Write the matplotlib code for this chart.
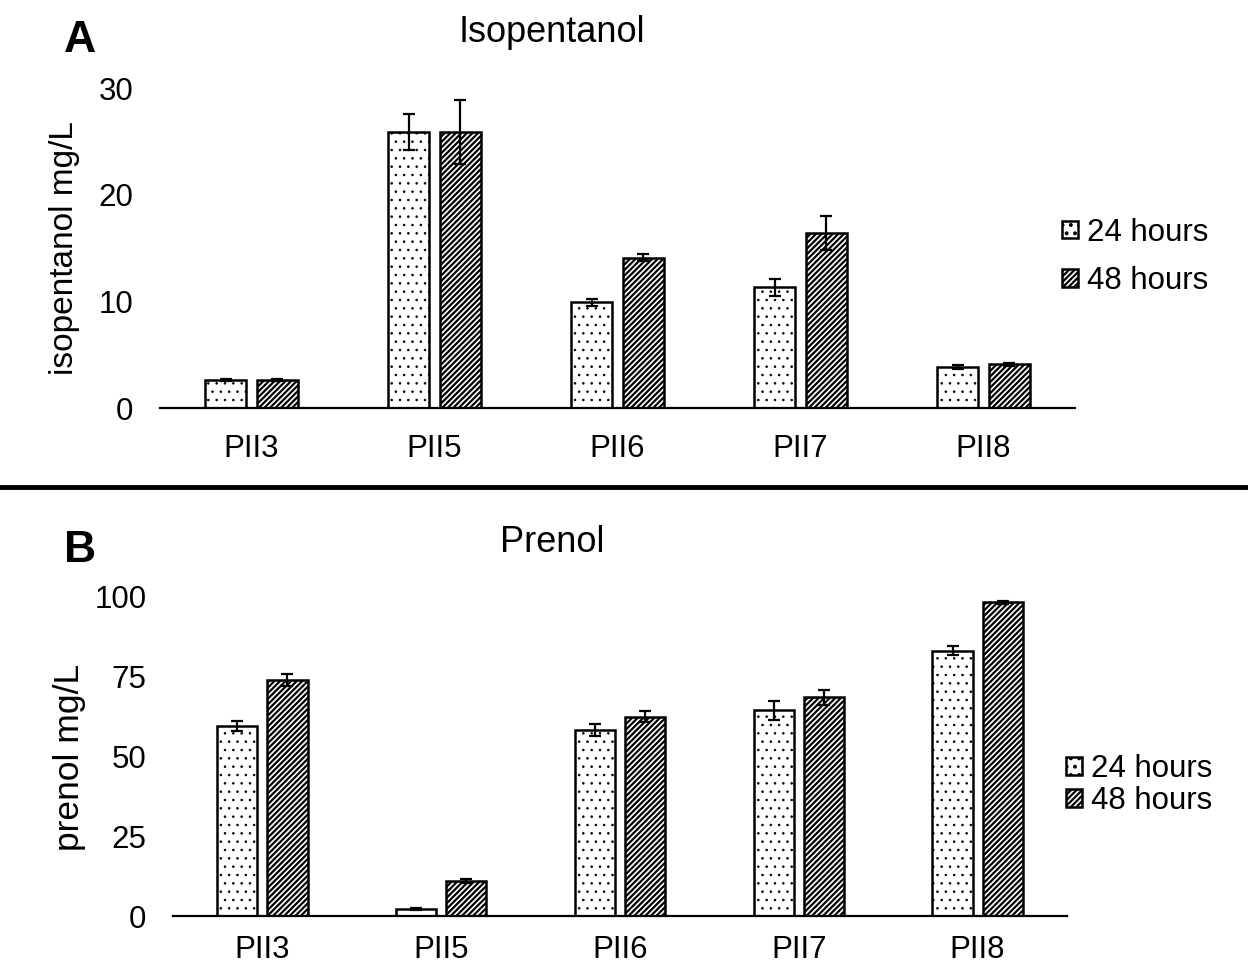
import matplotlib.pyplot as plt
from matplotlib.lines import Line2D
import numpy as np

plt.rcParams['font.family'] = ['Liberation Sans', 'DejaVu Sans']
plt.rcParams['hatch.linewidth'] = 1.6
plt.rcParams['hatch.color'] = 'black'

# data
strains = ["PII3", "PII5", "PII6", "PII7", "PII8"]
series = ["24 hours", "48 hours"]

iso_24 = [2.6, 25.9, 9.9, 11.3, 3.85]
iso_24_err = [0.1, 1.7, 0.35, 0.8, 0.15]
iso_48 = [2.6, 25.9, 14.1, 16.4, 4.1]
iso_48_err = [0.1, 3.0, 0.35, 1.6, 0.15]

pre_24 = [59.5, 2.2, 58.3, 64.5, 83.2]
pre_24_err = [1.5, 0.3, 2.0, 3.0, 1.3]
pre_48 = [74.0, 11.0, 62.5, 68.5, 98.3]
pre_48_err = [2.0, 0.5, 1.8, 2.5, 0.5]

fig = plt.figure(figsize=(12.48, 9.66), dpi=100)

ax1 = fig.add_axes([160 / 1248, 1 - 408 / 966, 915 / 1248, 320 / 966])
ax2 = fig.add_axes([173 / 1248, 1 - 916 / 966, 894 / 1248, 319 / 966])

x = np.arange(len(strains))
w = 0.225
off = 0.14
err_kw = dict(ecolor="black", elinewidth=1.6, capsize=4.5, capthick=1.6)


def draw(ax, v24, e24, v48, e48, ymax, ticks, xpad):
    b1 = ax.bar(x - off, v24, w, yerr=e24, color="white", edgecolor="black",
                linewidth=1.8, hatch="..", error_kw=err_kw, label=series[0])
    b2 = ax.bar(x + off, v48, w, yerr=e48, color="white", edgecolor="black",
                linewidth=1.8, hatch="//////", error_kw=err_kw, label=series[1])
    # thinner hatch stroke for the dots
    for p in b1.patches:
        if hasattr(p, "set_hatch_linewidth"):
            p.set_hatch_linewidth(0.6)
    ax.set_xlim(-0.5, 4.5)
    ax.set_ylim(0, ymax)
    ax.set_yticks(ticks)
    ax.set_xticks(x)
    ax.set_xticklabels(strains)
    for s in ["left", "top", "right"]:
        ax.spines[s].set_visible(False)
    ax.spines["bottom"].set_linewidth(1.6)
    ax.tick_params(axis="y", length=0, pad=19, labelsize=22.5)
    ax.tick_params(axis="x", length=0, pad=xpad, labelsize=22.5)
    return b1, b2


draw(ax1, iso_24, iso_24_err, iso_48, iso_48_err, 30, [0, 10, 20, 30], 19)
draw(ax2, pre_24, pre_24_err, pre_48, pre_48_err, 100, [0, 25, 50, 75, 100], 14)

ax1.legend(loc="center left", bbox_to_anchor=(1062 / 1248, 1 - 257 / 966),
           bbox_transform=fig.transFigure, frameon=False, fontsize=22.5,
           handlelength=0.5, handleheight=0.5, handletextpad=0.3,
           labelspacing=0.6, borderpad=0, borderaxespad=0)
ax2.legend(loc="center left", bbox_to_anchor=(1066 / 1248, 1 - 785 / 966),
           bbox_transform=fig.transFigure, frameon=False, fontsize=22.5,
           handlelength=0.5, handleheight=0.5, handletextpad=0.3,
           labelspacing=0.08, borderpad=0, borderaxespad=0)

# titles, panel letters, axis labels
fig.text(552 / 1248, 1 - 33 / 966, "Isopentanol", ha="center", va="center", fontsize=26)
fig.text(552 / 1248, 1 - 543 / 966, "Prenol", ha="center", va="center", fontsize=26)
fig.text(80 / 1248, 1 - 41 / 966, "A", ha="center", va="center", fontsize=32, fontweight="bold")
fig.text(80 / 1248, 1 - 550 / 966, "B", ha="center", va="center", fontsize=32, fontweight="bold")
fig.text(65 / 1248, 1 - 248 / 966, "isopentanol mg/L", rotation=90,
         ha="center", va="center", fontsize=24)
fig.text(70 / 1248, 1 - 757 / 966, "prenol mg/L", rotation=90,
         ha="center", va="center", fontsize=25.5)

# separator between the panels
fig.add_artist(Line2D([0, 1], [1 - 487 / 966, 1 - 487 / 966], color="black",
                      linewidth=3.5, transform=fig.transFigure))

fig.savefig("out.png", dpi=100)
